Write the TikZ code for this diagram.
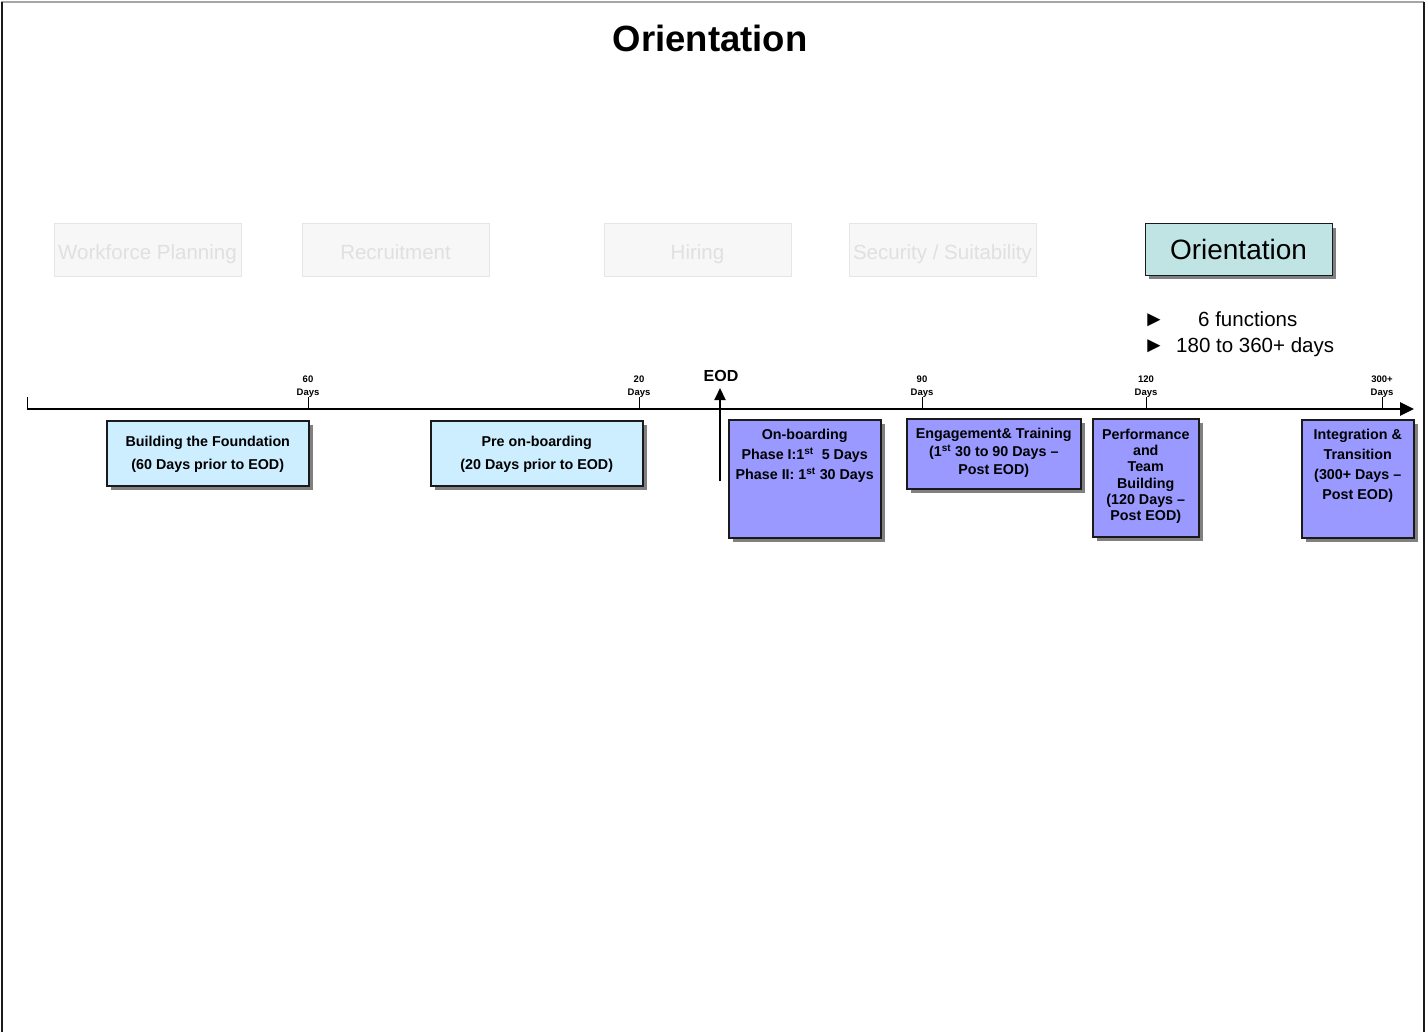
\documentclass[tikz,border=0pt]{standalone}
\usepackage{fontspec}
\setmainfont{Liberation Sans}
\usetikzlibrary{arrows.meta,shadows}
\definecolor{lightblue}{HTML}{CCEEFF}
\definecolor{periwinkle}{HTML}{9999FF}
\definecolor{tealbox}{HTML}{C0E4E4}
\definecolor{ghostfill}{HTML}{F7F7F7}
\definecolor{ghostline}{HTML}{E6E6E6}
\definecolor{ghosttext}{HTML}{E0E0E0}
\definecolor{shadowgray}{HTML}{808080}
\definecolor{boxline}{HTML}{1A1A1A}
\tikzset{
  ghost/.style={draw=ghostline, line width=1pt, fill=ghostfill, text=ghosttext,
    minimum width=187pt, minimum height=52pt, inner sep=0pt, text height=20pt, text depth=1pt,
    font=\fontsize{20.5}{24}\selectfont},
  shadowed/.style={drop shadow={shadow xshift=4pt, shadow yshift=-4pt, fill=shadowgray, opacity=1}},
  phasebox/.style={draw=boxline, line width=1.5pt, shadowed, inner sep=0pt, anchor=north west},
  bluebox/.style={phasebox, fill=lightblue},
  purplebox/.style={phasebox, fill=periwinkle},
  boxtext/.style={align=center, inner sep=0pt, anchor=north},
  ticklabel/.style={align=center, inner sep=0pt, anchor=south, font=\bfseries\fontsize{9.5}{13}\selectfont},
  tickline/.style={line width=1pt},
  bulletmark/.style={anchor=base west, inner sep=0pt, font=\fontsize{22}{24}\selectfont},
  bullettext/.style={anchor=base west, inner sep=0pt, font=\fontsize{20.5}{24}\selectfont},
}
\begin{document}
\begin{tikzpicture}[x=1pt, y=-1pt]
\useasboundingbox (0,0) rectangle (1426,1032);
% frame
\draw[line width=1.2pt, color=gray!70] (1,2) -- (1424,2);
\draw[line width=2pt, color=boxline] (1.5,2) -- (1.5,1032);
\draw[line width=2pt, color=boxline] (1423.5,2) -- (1423.5,1032);

% title
\node[anchor=base, inner sep=0pt, font=\bfseries\fontsize{36.5}{40}\selectfont] (title) at (710,52) {Orientation};

% ghost process boxes
\node[ghost] (wfp) at (147.5,250) {Workforce Planning};
\node[ghost] (rec) at (395.5,250) {Recruitment};
\node[ghost] (hir) at (697.5,250) {Hiring};
\node[ghost] (sec) at (942.5,250) {Security / Suitability};
\node[draw=boxline, line width=1pt, fill=tealbox, shadowed, minimum width=187pt, minimum height=51pt, inner sep=0pt,
      font=\fontsize{28}{32}\selectfont] (ori) at (1238.5,249.5) {Orientation};

% bullets
\node[bulletmark] (b1) at (1143,326.5) {►};
\node[bulletmark] (b2) at (1143,352.5) {►};
\node[bullettext] (t1) at (1198,326) {6 functions};
\node[bullettext] (t2) at (1176,352) {180 to 360+ days};

% timeline
\coordinate (tlstart) at (27,409);
\coordinate (tlend) at (1414,409);
\coordinate (tlstarttop) at (27,397);
\draw[line width=1pt] (tlstarttop) -- (tlstart);
\draw[line width=2.8pt, -{Triangle[length=14pt,width=13pt]}] (tlstart) -- (tlend);

% ticks
\foreach \nm/\xx/\lab in {t60/308/60, t20/639/20, t90/922/90, t120/1146/120, t300/1382/300+}{
  \coordinate (\nm a) at (\xx,409);
  \coordinate (\nm b) at (\xx,397);
  \draw[tickline] (\nm a) -- (\nm b);
  \node[ticklabel] (\nm lab) at (\xx,397.5) {\lab\\Days};
}

% EOD
\node[anchor=base, inner sep=0pt, font=\bfseries\fontsize{16}{18}\selectfont] (eod) at (721,381) {EOD};
\coordinate (eodfoot) at (720,481);
\coordinate (eodhead) at (720,388);
\draw[line width=2pt, -{Triangle[length=12pt,width=11pt]}] (eodfoot) -- (eodhead);

% phase boxes
\node[bluebox, minimum width=202pt, minimum height=65pt] (bf) at (106,420) {};
\node[boxtext, font=\bfseries\fontsize{14.3}{23}\selectfont] (bft) at ([yshift=-16pt]bf.north) {Building the Foundation\\(60 Days prior to EOD)};

\node[bluebox, minimum width=212pt, minimum height=65pt] (pob) at (430,420) {};
\node[boxtext, font=\bfseries\fontsize{14.3}{23}\selectfont] (pobt) at ([yshift=-16pt]pob.north) {Pre on-boarding\\(20 Days prior to EOD)};

\node[purplebox, minimum width=152pt, minimum height=118pt] (onb) at (728,419) {};
\node[boxtext, font=\bfseries\fontsize{14.3}{20}\selectfont] (onbt) at ([yshift=-10pt]onb.north) {On-boarding\\Phase I:1\textsuperscript{st}\ \ 5 Days\\Phase II: 1\textsuperscript{st} 30 Days};

\node[purplebox, minimum width=174pt, minimum height=70pt] (eng) at (906,418) {};
\node[boxtext, font=\bfseries\fontsize{14.3}{18}\selectfont] (engt) at ([yshift=-10pt]eng.north) {Engagement\&\ Training\\(1\textsuperscript{st} 30 to 90 Days –\\Post EOD)};

\node[purplebox, minimum width=106pt, minimum height=118pt] (perf) at (1092,418) {};
\node[boxtext, font=\bfseries\fontsize{14.3}{16.2}\selectfont] (perft) at ([yshift=-11pt]perf.north) {Performance\\and\\Team\\Building\\(120 Days –\\Post EOD)};

\node[purplebox, minimum width=112pt, minimum height=118pt] (intg) at (1301,419) {};
\node[boxtext, font=\bfseries\fontsize{14.3}{20}\selectfont] (intgt) at ([yshift=-10pt]intg.north) {Integration \&\\Transition\\(300+ Days –\\Post EOD)};
\end{tikzpicture}
\end{document}
